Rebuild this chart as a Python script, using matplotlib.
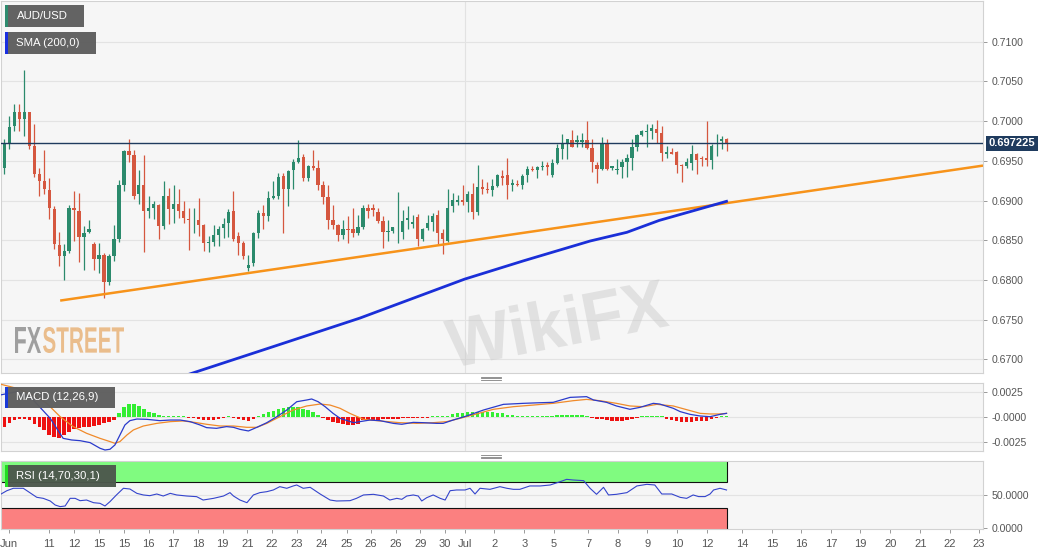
import numpy as np
import matplotlib.pyplot as plt
from matplotlib.patches import Rectangle, PathPatch
from matplotlib.textpath import TextPath
from matplotlib.font_manager import FontProperties
from matplotlib.transforms import Affine2D, IdentityTransform, blended_transform_factory
from matplotlib.lines import Line2D

plt.rcParams['font.family'] = ['Liberation Sans', 'DejaVu Sans']

W, H = 1060, 555

# AUD/USD 4h candles (Jun 10 -> Jul 13)
opens = [0.6966, 0.6941, 0.6973, 0.6994, 0.7011, 0.7003, 0.7011, 0.6969, 0.6934, 0.6924,
         0.6913, 0.6889, 0.6844, 0.6830, 0.6836, 0.6890, 0.6887, 0.6854, 0.6860, 0.6845,
         0.6826, 0.6832, 0.6797, 0.6830, 0.6851, 0.6919, 0.6963, 0.6957, 0.6908, 0.6920,
         0.6887, 0.6890, 0.6895, 0.6868, 0.6906, 0.6889, 0.6896, 0.6887, 0.6877, 0.6875,
         0.6875, 0.6869, 0.6847, 0.6848, 0.6856, 0.6865, 0.6872, 0.6887, 0.6855, 0.6847,
         0.6815, 0.6821, 0.6859, 0.6884, 0.6881, 0.6903, 0.6906, 0.6931, 0.6914, 0.6938,
         0.6948, 0.6955, 0.6929, 0.6943, 0.6941, 0.6919, 0.6905, 0.6876, 0.6869, 0.6857,
         0.6864, 0.6864, 0.6859, 0.6867, 0.6890, 0.6890, 0.6885, 0.6874, 0.6861, 0.6862,
         0.6860, 0.6861, 0.6875, 0.6871, 0.6879, 0.6851, 0.6866, 0.6873, 0.6882, 0.6859,
         0.6849, 0.6893, 0.6898, 0.6901, 0.6898, 0.6908, 0.6885, 0.6917, 0.6915, 0.6913,
         0.6918, 0.6931, 0.6932, 0.6919, 0.6921, 0.6920, 0.6932, 0.6940, 0.6939, 0.6942,
         0.6945, 0.6932, 0.6947, 0.6965, 0.6973, 0.6976, 0.6974, 0.6974, 0.6976, 0.6966,
         0.6945, 0.6940, 0.6971, 0.6941, 0.6938, 0.6942, 0.6949, 0.6954, 0.6968, 0.6983,
         0.6986, 0.6987, 0.6990, 0.6985, 0.6959, 0.6961, 0.6961, 0.6945, 0.6944, 0.6947,
         0.6959, 0.6954, 0.6954, 0.6951, 0.6971, 0.6975, 0.6977]
highs = [0.6971, 0.6978, 0.7006, 0.7021, 0.7021, 0.7064, 0.7012, 0.6996, 0.6941, 0.6964,
         0.6929, 0.6893, 0.6860, 0.6845, 0.6894, 0.6912, 0.6910, 0.6868, 0.6875, 0.6848,
         0.6847, 0.6834, 0.6833, 0.6869, 0.6926, 0.6964, 0.6977, 0.6964, 0.6939, 0.6957,
         0.6906, 0.6899, 0.6896, 0.6924, 0.6916, 0.6920, 0.6914, 0.6899, 0.6890, 0.6891,
         0.6903, 0.6870, 0.6855, 0.6869, 0.6868, 0.6878, 0.6889, 0.6912, 0.6861, 0.6849,
         0.6832, 0.6861, 0.6888, 0.6894, 0.6912, 0.6924, 0.6935, 0.6935, 0.6939, 0.6952,
         0.6976, 0.6958, 0.6945, 0.6964, 0.6951, 0.6924, 0.6919, 0.6894, 0.6871, 0.6876,
         0.6880, 0.6891, 0.6882, 0.6895, 0.6896, 0.6896, 0.6890, 0.6880, 0.6876, 0.6867,
         0.6911, 0.6888, 0.6893, 0.6882, 0.6883, 0.6866, 0.6882, 0.6884, 0.6888, 0.6864,
         0.6914, 0.6909, 0.6907, 0.6919, 0.6912, 0.6922, 0.6945, 0.6927, 0.6923, 0.6927,
         0.6934, 0.6939, 0.6954, 0.6927, 0.6926, 0.6933, 0.6943, 0.6943, 0.6944, 0.6950,
         0.6948, 0.6952, 0.6971, 0.6984, 0.6978, 0.6989, 0.6982, 0.6985, 0.7000, 0.6977,
         0.6948, 0.6980, 0.6978, 0.6944, 0.6952, 0.6952, 0.6958, 0.6977, 0.6984, 0.6989,
         0.6996, 0.6996, 0.7002, 0.6994, 0.6969, 0.6966, 0.6962, 0.6946, 0.6954, 0.6970,
         0.6960, 0.6956, 0.7000, 0.6971, 0.6984, 0.6981, 0.6979]
lows = [0.6937, 0.6933, 0.6965, 0.6987, 0.6988, 0.6981, 0.6965, 0.6930, 0.6906, 0.6908,
        0.6877, 0.6839, 0.6817, 0.6800, 0.6834, 0.6849, 0.6823, 0.6812, 0.6859, 0.6812,
        0.6809, 0.6777, 0.6794, 0.6824, 0.6848, 0.6912, 0.6948, 0.6902, 0.6896, 0.6835,
        0.6878, 0.6877, 0.6852, 0.6864, 0.6870, 0.6872, 0.6878, 0.6872, 0.6838, 0.6859,
        0.6855, 0.6836, 0.6835, 0.6843, 0.6843, 0.6853, 0.6854, 0.6849, 0.6831, 0.6826,
        0.6811, 0.6817, 0.6853, 0.6864, 0.6874, 0.6902, 0.6902, 0.6859, 0.6893, 0.6914,
        0.6947, 0.6924, 0.6925, 0.6938, 0.6913, 0.6896, 0.6864, 0.6864, 0.6849, 0.6852,
        0.6847, 0.6854, 0.6856, 0.6864, 0.6878, 0.6880, 0.6872, 0.6840, 0.6849, 0.6859,
        0.6847, 0.6852, 0.6864, 0.6866, 0.6843, 0.6849, 0.6863, 0.6862, 0.6845, 0.6833,
        0.6848, 0.6885, 0.6895, 0.6895, 0.6885, 0.6877, 0.6882, 0.6908, 0.6910, 0.6906,
        0.6917, 0.6919, 0.6902, 0.6912, 0.6918, 0.6914, 0.6923, 0.6937, 0.6929, 0.6938,
        0.6932, 0.6930, 0.6946, 0.6952, 0.6952, 0.6967, 0.6968, 0.6967, 0.6965, 0.6936,
        0.6922, 0.6939, 0.6938, 0.6939, 0.6933, 0.6929, 0.6930, 0.6939, 0.6963, 0.6981,
        0.6968, 0.6977, 0.6973, 0.6950, 0.6954, 0.6958, 0.6935, 0.6923, 0.6941, 0.6939,
        0.6933, 0.6944, 0.6944, 0.6940, 0.6956, 0.6965, 0.6963]
closes = [0.6939, 0.6971, 0.6992, 0.7011, 0.7003, 0.7011, 0.6969, 0.6933, 0.6924, 0.6914,
          0.6890, 0.6845, 0.6830, 0.6836, 0.6890, 0.6888, 0.6854, 0.6859, 0.6864, 0.6826,
          0.6832, 0.6797, 0.6830, 0.6851, 0.6919, 0.6963, 0.6957, 0.6906, 0.6920, 0.6887,
          0.6890, 0.6896, 0.6868, 0.6906, 0.6889, 0.6896, 0.6887, 0.6878, 0.6875, 0.6876,
          0.6869, 0.6847, 0.6848, 0.6856, 0.6864, 0.6871, 0.6885, 0.6852, 0.6846, 0.6830,
          0.6819, 0.6859, 0.6884, 0.6881, 0.6903, 0.6906, 0.6930, 0.6914, 0.6937, 0.6948,
          0.6953, 0.6929, 0.6943, 0.6941, 0.6919, 0.6905, 0.6876, 0.6869, 0.6857, 0.6864,
          0.6863, 0.6859, 0.6867, 0.6890, 0.6887, 0.6888, 0.6874, 0.6861, 0.6862, 0.6867,
          0.6861, 0.6874, 0.6878, 0.6873, 0.6851, 0.6864, 0.6872, 0.6880, 0.6859, 0.6851,
          0.6891, 0.6901, 0.6901, 0.6898, 0.6908, 0.6885, 0.6917, 0.6915, 0.6913, 0.6918,
          0.6932, 0.6929, 0.6919, 0.6922, 0.6919, 0.6931, 0.6940, 0.6938, 0.6942, 0.6944,
          0.6942, 0.6947, 0.6966, 0.6971, 0.6977, 0.6968, 0.6976, 0.6976, 0.6966, 0.6948,
          0.6940, 0.6971, 0.6940, 0.6943, 0.6940, 0.6949, 0.6953, 0.6968, 0.6983, 0.6987,
          0.6988, 0.6991, 0.6985, 0.6960, 0.6961, 0.6959, 0.6945, 0.6943, 0.6949, 0.6958,
          0.6951, 0.6952, 0.6951, 0.6969, 0.6973, 0.6977, 0.6972]
last_price = 0.697225

# SMA(200) and the hand-drawn support line (candle index, price)
sma_idx = [36, 54, 72.4, 93.4, 105.2, 118.6, 126, 132.5, 138.7, 146]
sma_val = [0.6677, 0.6714, 0.6752, 0.6801, 0.6824, 0.6849, 0.6860, 0.6875, 0.6886, 0.6899]
trend_idx = [12.2, 197.5]
trend_val = [0.6774, 0.6944]

# MACD (12,26,9)
macd_hist = [-0.00128, -0.00095, -0.00056, -0.00030, -0.00023, -0.00016, -0.00030, -0.00069, -0.00102, -0.00128,
             -0.00178, -0.00194, -0.00211, -0.00178, -0.00145, -0.00122, -0.00112, -0.00095, -0.00095, -0.00089,
             -0.00079, -0.00063, -0.00046, -0.00030, 0.00036, 0.00102, 0.00125, 0.00125, 0.00109, 0.00076,
             0.00053, 0.00036, 0.00020, 0.00013, 0.00007, 0.00003, 0.00003, 0.00001, -0.00007, -0.00013,
             -0.00020, -0.00026, -0.00030, -0.00026, -0.00020, -0.00010, 0.00002, -0.00003, -0.00016, -0.00030,
             -0.00036, -0.00020, 0.00013, 0.00030, 0.00046, 0.00063, 0.00076, 0.00086, 0.00095, 0.00102,
             0.00095, 0.00082, 0.00069, 0.00046, 0.00020, -0.00003, -0.00030, -0.00046, -0.00063, -0.00072,
             -0.00079, -0.00079, -0.00069, -0.00030, -0.00030, -0.00030, -0.00026, -0.00023, -0.00020, -0.00016,
             -0.00016, -0.00013, -0.00013, -0.00010, -0.00010, -0.00007, -0.00007, 0.00003, 0.00003, 0.00003,
             0.00013, 0.00026, 0.00036, 0.00043, 0.00046, 0.00046, 0.00046, 0.00049, 0.00049, 0.00046,
             0.00043, 0.00036, 0.00023, 0.00016, 0.00013, 0.00013, 0.00010, 0.00010, 0.00010, 0.00010,
             0.00013, 0.00013, 0.00020, 0.00023, 0.00023, 0.00023, 0.00020, 0.00016, 0.00007, -0.00007,
             -0.00016, -0.00023, -0.00030, -0.00036, -0.00039, -0.00039, -0.00033, -0.00023, -0.00013, 0.00000,
             0.00007, 0.00010, 0.00010, 0.00000, -0.00016, -0.00030, -0.00039, -0.00046, -0.00046, -0.00046,
             -0.00043, -0.00039, -0.00036, -0.00023, -0.00007, 0.00003, 0.00007]
macd_idx = [0.1, 3.5, 6.8, 10.2, 12.8, 14.5, 16.2, 18.2, 20.2, 21.2, 22.2, 23.2, 24.2, 25.2, 26.2,
            27.6, 29.6, 32.2, 34.3, 36.3, 38.3, 40.3, 41.6, 43.6, 45.6, 47.0, 48.3, 50.0, 51.7, 53.7,
            55.7, 57.7, 59.7, 61.7, 62.7, 64.0, 65.4, 67.0, 68.4, 71.1, 74.4, 76.4, 79.1, 80.8, 83.1,
            85.1, 87.8, 89.1, 91.1, 93.8, 97.2, 101.2, 105.2, 108.5, 111.2, 114.6, 117.9, 119.3, 121.9,
            123.9, 126.6, 128.6, 131.3, 132.6, 135.3, 136.7, 138.7, 140.7, 142.7, 144.7, 146.0]
macd_val = [0.00217, 0.00250, 0.00168, -0.00013, -0.00211, -0.00227, -0.00234, -0.00253, -0.00309, -0.00326,
            -0.00319, -0.00276, -0.00178, -0.00079, -0.00036, -0.00020, -0.00023, -0.00036, -0.00030, -0.00030,
            -0.00046, -0.00079, -0.00105, -0.00112, -0.00095, -0.00102, -0.00122, -0.00138, -0.00102, -0.00056,
            0.00003, 0.00069, 0.00151, 0.00168, 0.00178, 0.00151, 0.00102, 0.00036, -0.00013, -0.00056,
            -0.00030, -0.00036, -0.00063, -0.00072, -0.00053, -0.00056, -0.00063, -0.00063, -0.00030, 0.00010,
            0.00069, 0.00125, 0.00135, 0.00141, 0.00145, 0.00194, 0.00201, 0.00168, 0.00145, 0.00109,
            0.00076, 0.00095, 0.00135, 0.00128, 0.00086, 0.00053, 0.00026, 0.00010, 0.00003, 0.00026, 0.00036]
signal_idx = [0.1, 3.5, 6.8, 9.5, 12.2, 14.8, 17.5, 20.2, 22.2, 23.2, 24.2, 25.6, 26.9, 28.9, 31.6,
              34.3, 36.9, 39.6, 41.6, 44.3, 47.0, 49.7, 51.7, 53.7, 56.3, 59.0, 61.7, 64.4, 66.4, 68.4,
              70.4, 73.1, 76.4, 80.4, 83.8, 87.1, 89.8, 92.5, 95.8, 99.2, 103.2, 107.2, 111.2, 115.2,
              117.9, 120.6, 123.9, 126.6, 129.3, 132.0, 135.3, 138.7, 140.7, 142.7, 144.7, 146.0]
signal_val = [0.00326, 0.00283, 0.00217, 0.00135, 0.00003, -0.00095, -0.00161, -0.00211, -0.00243, -0.00260,
              -0.00243, -0.00178, -0.00128, -0.00089, -0.00063, -0.00046, -0.00039, -0.00056, -0.00072, -0.00089,
              -0.00089, -0.00102, -0.00102, -0.00063, 0.00003, 0.00069, 0.00109, 0.00128, 0.00118, 0.00086,
              0.00035, -0.00023, -0.00039, -0.00056, -0.00063, -0.00056, -0.00046, -0.00013, 0.00030, 0.00076,
              0.00102, 0.00118, 0.00135, 0.00161, 0.00174, 0.00161, 0.00135, 0.00109, 0.00102, 0.00125,
              0.00109, 0.00063, 0.00036, 0.00030, 0.00030, 0.00036]

# RSI (14)
rsi_idx = [0, 1.5, 2.8, 4.8, 6.1, 7.5, 8.8, 10.2, 11.2, 12.2, 13.2, 14.2, 15.2, 16.2, 17.5, 18.9, 20.2,
           21.2, 22.2, 23.5, 24.9, 26.2, 27.6, 28.9, 30.2, 31.6, 32.9, 34.3, 35.6, 37.6, 39.6, 40.9, 43.0,
           45.0, 46.3, 47.0, 48.3, 49.7, 51.0, 52.3, 53.7, 55.0, 56.3, 57.7, 59.0, 59.7, 61.0, 62.4, 64.4,
           66.4, 67.7, 70.4, 71.7, 73.1, 75.1, 77.1, 78.4, 79.8, 80.8, 81.8, 83.1, 84.1, 84.8, 85.8, 87.1,
           88.5, 89.5, 90.5, 91.8, 93.5, 94.5, 95.5, 96.5, 98.5, 100.5, 101.9, 103.2, 104.5, 106.5, 108.6,
           110.6, 112.6, 113.9, 115.2, 117.3, 118.6, 119.9, 121.3, 122.3, 123.9, 126.0, 128.0, 130.0, 131.6,
           133.0, 135.0, 136.7, 138.0, 139.3, 140.4, 141.7, 142.7, 143.4, 144.7, 146.0]
rsi_val = [50.5, 57.1, 60.8, 60.8, 54.1, 46.9, 45.3, 41.2, 35.0, 32.5, 33.5, 45.3, 45.3, 41.7, 42.7, 38.6,
           37.6, 33.5, 40.2, 50.5, 60.8, 59.7, 53.0, 50.5, 49.4, 52.0, 48.9, 53.0, 50.5, 48.9, 47.9, 42.7,
           45.3, 48.9, 54.1, 48.9, 42.7, 38.6, 50.5, 54.1, 55.6, 58.2, 63.3, 60.8, 64.4, 65.9, 60.8, 62.3,
           52.0, 42.7, 41.2, 41.7, 45.3, 50.5, 51.5, 48.9, 42.7, 45.3, 43.8, 48.9, 50.5, 48.9, 41.2, 46.3,
           50.5, 45.3, 42.7, 57.1, 58.2, 58.2, 60.8, 52.0, 60.8, 59.2, 63.3, 60.8, 59.2, 59.2, 64.4, 64.4,
           65.9, 71.0, 74.6, 73.6, 72.6, 60.8, 51.5, 62.3, 50.5, 51.5, 54.1, 64.4, 66.9, 65.9, 52.0, 52.0,
           46.8, 45.3, 50.5, 48.0, 48.0, 52.0, 58.2, 60.8, 58.2]

price_ticks = [0.7100, 0.7050, 0.7000, 0.6950, 0.6900, 0.6850, 0.6800, 0.6750, 0.6700]
date_ticks = [1.9, 10.0, 15.0, 20.0, 25.0, 30.0, 34.9, 39.9, 44.8, 49.8, 54.7, 59.7, 64.6, 69.7,
              74.6, 79.6, 84.5, 89.5, 93.5, 99.4, 105.4, 111.3, 118.2, 124.2, 130.1, 136.1, 142.1,
              149.1, 155.1, 161.0, 167.0, 172.9, 178.9, 184.9, 190.8, 196.6]
date_labels = ['Jun', '11', '12', '15', '15', '16', '17', '18', '19', '21', '22', '23', '24', '25',
               '26', '26', '29', '30', 'Jul', '2', '3', '5', '7', '8', '9', '10', '12',
               '14', '15', '16', '17', '19', '20', '21', '22', '23']
month_break = 93.4

GREEN = '#2b8a6c'
RED = '#d5573f'
X_LEFT, X_RIGHT = 0.32, 197.5

fig = plt.figure(figsize=(W / 100, H / 100), dpi=100)
fig.patch.set_facecolor('white')


def panel(top, bottom):
    ax = fig.add_axes([1 / W, 1 - bottom / H, 982 / W, (bottom - top) / H])
    ax.set_facecolor('#f6f6f6')
    for s in ax.spines.values():
        s.set_color('#d2d2d2')
        s.set_linewidth(0.8)
    ax.set_xlim(X_LEFT, X_RIGHT)
    ax.yaxis.tick_right()
    ax.tick_params(axis='y', length=3, width=0.7, color='#9a9a9a',
                   labelcolor='#555555', labelsize=7.6, pad=3)
    ax.tick_params(axis='x', length=0, labelbottom=False)
    ax.axvline(month_break, color='#e2e2e2', lw=0.8, zorder=0)
    return ax


# ---- main price panel ----
ax = panel(1, 373)
ax.set_ylim(0.66828, 0.71513)
ax.set_yticks(price_ticks, [f'{p:.4f}' for p in price_ticks])
for p in price_ticks:
    ax.axhline(p, color='#e3e3e3', lw=0.8, zorder=0)

o = np.array(opens)
c = np.array(closes)
idx = np.arange(len(o))
cols = np.where(c >= o, GREEN, RED)
ax.vlines(idx, lows, highs, colors=cols, lw=0.9, zorder=3)
ax.bar(idx, np.maximum(np.abs(c - o), 0.00005), bottom=np.minimum(o, c), width=0.66,
       color=cols, lw=0, zorder=4)

ax.plot(trend_idx, trend_val, color='#f7931a', lw=1.8, zorder=5, solid_capstyle='butt')
ax.plot(sma_idx, sma_val, color='#1a2fd8', lw=2.0, zorder=5)
ax.axhline(last_price, color='#1f3b5e', lw=1.0, zorder=6)
ax.text(1.006, last_price, f'{last_price:.6f}', color='white', fontsize=8, weight='bold',
        va='center', ha='left', transform=blended_transform_factory(ax.transAxes, ax.transData),
        bbox=dict(boxstyle='square,pad=0.22', fc='#1f3b5e', ec='none'), clip_on=False)

# ---- MACD panel ----
am = panel(383, 451)
am.set_ylim(-0.00336, 0.00336)
am.set_yticks([0.0025, 0.0, -0.0025], ['0.0025', '-0.0000', '-0.0025'])
for v in [0.0025, 0.0, -0.0025]:
    am.axhline(v, color='#e3e3e3', lw=0.8, zorder=0)
hist = np.array(macd_hist)
hcol = np.where(hist >= 0, '#33ee33', '#ee1111')
hshow = np.where(np.abs(hist) < 0.00008, np.where(hist >= 0, 0.00008, -0.00008), hist)
am.bar(idx[:len(hist)], hshow, width=0.7, color=hcol, lw=0, zorder=2)
am.plot(signal_idx, signal_val, color='#f08a2a', lw=0.9, zorder=3)
am.plot(macd_idx, macd_val, color='#2a3acb', lw=0.9, zorder=4)

# ---- RSI panel ----
ar = panel(461, 529)
ar.set_ylim(-2.0, 102.9)
ar.set_yticks([50, 0], ['50.0000', '0.0000'])
ar.axhline(50, color='#e3e3e3', lw=0.8, zorder=0)
last_i = len(opens) - 1
ar.add_patch(Rectangle((X_LEFT - 2, 70), last_i - X_LEFT + 2, 60, fc='#80fb80', ec='#111111',
                       lw=0.8, zorder=1))
ar.add_patch(Rectangle((X_LEFT - 2, -20), last_i - X_LEFT + 2, 50, fc='#fb8080', ec='#111111',
                       lw=0.8, zorder=1))
ar.plot(rsi_idx, rsi_val, color='#3444cc', lw=0.8, zorder=3)
ar.set_xticks(date_ticks, date_labels)
ar.tick_params(axis='x', length=3, width=0.7, color='#9a9a9a', labelcolor='#555555',
               labelsize=8, pad=4, labelbottom=True)


# ---- overlay tags ----
def px_rect(x0, y0, x1, y1, color, z=10, alpha=1.0):
    fig.add_artist(Rectangle((x0 / W, 1 - y1 / H), (x1 - x0) / W, (y1 - y0) / H,
                             transform=fig.transFigure, fc=color, ec='none', zorder=z, alpha=alpha))


def tag(x0, y0, x1, y1, stripe, text, fc='#5e5e5e'):
    px_rect(x0, y0, x1, y1, fc, alpha=0.97)
    px_rect(x0, y0, x0 + 2.5, y1, stripe, z=11)
    fig.text((x0 + 11.5) / W, 1 - (y0 + y1) / 2 / H, text, color='white', fontsize=8.2,
             va='center', ha='left', zorder=12)


tag(5, 5, 84, 27, '#2e8b6e', 'AUD/USD')
tag(5, 32, 96, 54, '#1a2fe0', 'SMA (200,0)')
tag(5, 387, 115, 408, '#1a3ad8', 'MACD (12,26,9)')
tag(5, 465, 116, 487, '#22dd22', 'RSI (14,70,30,1)', fc='#4d584d')

# panel grips
for gy in (376.5, 378.0, 379.5, 455.0, 456.5, 458.0):
    fig.add_artist(Line2D([481 / W, 501 / W], [1 - gy / H, 1 - gy / H], transform=fig.transFigure,
                          color='#808080', lw=0.6))

# watermarks
bold = FontProperties(family='Liberation Sans', weight='bold')


def stamp(text, x, y_top, w, h, color, alpha, rot=0.0):
    tp = TextPath((0, 0), text, size=1, prop=bold)
    bb = tp.get_extents()
    tr = (Affine2D().translate(-bb.x0, -bb.y0).scale(w / bb.width, h / bb.height)
          .rotate_deg(rot).translate(x, H - y_top - h))
    fig.add_artist(PathPatch(tr.transform_path(tp), fc=color, ec='none', alpha=alpha,
                             transform=IdentityTransform(), zorder=8))


stamp('FX', 15, 327, 26, 26, '#8a8a8a', 0.8)
stamp('STREET', 43, 327, 81, 26, '#e8b37a', 0.85)
stamp('WikiFX', 452, 318, 222, 50, '#c8c8c8', 0.45, rot=11)

fig.savefig('out.png', dpi=100, facecolor='white')
